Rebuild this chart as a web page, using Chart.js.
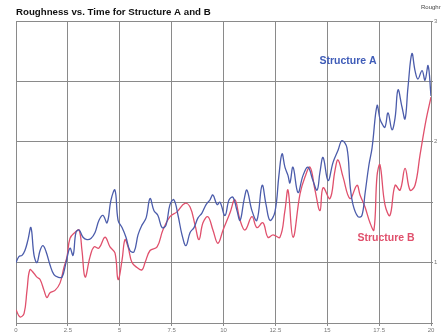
<!DOCTYPE html>
<html>
<head>
<meta charset="utf-8">
<script src="https://cdn.jsdelivr.net/npm/chart.js@4.4.0/dist/chart.umd.min.js"></script>
<style>
  html, body { margin: 0; padding: 0; background: #fff; }
  #wrap { width: 441px; height: 334px; position: relative; }
</style>
</head>
<body>
<div id="wrap"><canvas id="roughChart"></canvas></div>
<script>
// values
const timeA = [0,0.14,0.29,0.43,0.58,0.72,0.87,1.01,1.16,1.3,1.45,1.64,1.83,2.02,2.22,2.41,2.6,2.75,2.89,3.04,3.23,3.42,3.61,3.81,4,4.19,4.39,4.58,4.77,4.92,5.11,5.3,5.49,5.69,5.88,6.07,6.27,6.46,6.65,6.84,7.04,7.23,7.42,7.61,7.81,8,8.19,8.39,8.58,8.77,8.96,9.16,9.35,9.49,9.69,9.83,10.07,10.27,10.46,10.65,10.8,10.99,11.13,11.37,11.61,11.86,12.05,12.24,12.48,12.67,12.82,12.96,13.11,13.2,13.35,13.59,13.83,14.07,14.31,14.51,14.65,14.8,15.04,15.28,15.52,15.71,15.95,16.1,16.24,16.48,16.67,16.82,17.01,17.16,17.4,17.54,17.64,17.78,17.93,18.12,18.27,18.41,18.6,18.75,18.89,19.08,19.23,19.37,19.57,19.71,19.86,20];
const roughA = [1,1.05,1.06,1.1,1.19,1.29,1.06,1,1.1,1.14,1.09,0.98,0.9,0.88,0.88,1,1.12,1.06,1.25,1.27,1.21,1.19,1.2,1.25,1.35,1.39,1.33,1.52,1.6,1.35,1.29,1.21,1.1,1.09,1.23,1.31,1.37,1.53,1.43,1.39,1.29,1.31,1.48,1.52,1.39,1.23,1.14,1.25,1.29,1.37,1.41,1.48,1.52,1.56,1.48,1.5,1.39,1.52,1.54,1.43,1.35,1.52,1.6,1.43,1.35,1.64,1.48,1.35,1.42,1.72,1.9,1.79,1.72,1.66,1.79,1.58,1.72,1.79,1.68,1.6,1.75,1.87,1.68,1.83,1.93,2.01,1.95,1.64,1.48,1.38,1.39,1.57,1.81,1.95,2.3,2.19,2.15,2.12,2.24,2.1,2.2,2.43,2.29,2.19,2.45,2.73,2.59,2.52,2.59,2.51,2.63,2.38];

const timeB = [0,0.19,0.39,0.53,0.67,0.87,1.01,1.16,1.35,1.49,1.64,1.88,2.12,2.31,2.46,2.6,2.84,3.04,3.18,3.33,3.57,3.76,4,4.29,4.53,4.77,4.92,5.11,5.25,5.4,5.59,5.83,6.07,6.22,6.46,6.8,7.08,7.42,7.76,8.14,8.39,8.63,8.82,9.01,9.25,9.49,9.73,9.98,10.31,10.55,10.8,11.04,11.37,11.61,11.9,12.14,12.39,12.72,12.96,13.11,13.35,13.69,13.93,14.17,14.41,14.65,14.8,15.13,15.37,15.52,15.76,16.1,16.43,16.58,16.82,17.06,17.25,17.4,17.54,17.78,18.02,18.27,18.51,18.75,18.99,19.23,19.47,19.76,20];
const roughB = [0.61,0.55,0.58,0.77,0.94,0.91,0.88,0.86,0.77,0.71,0.75,0.77,0.83,0.96,1.05,1.2,1.25,1.27,1.1,0.88,1.05,1.13,1.12,1.21,1.13,1.08,0.86,1.02,1.19,1.13,1,0.96,0.94,1,1.1,1.13,1.27,1.38,1.42,1.49,1.46,1.31,1.19,1.33,1.38,1.27,1.16,1.27,1.41,1.52,1.35,1.27,1.38,1.29,1.33,1.21,1.23,1.21,1.43,1.6,1.21,1.57,1.71,1.79,1.6,1.43,1.62,1.53,1.76,1.85,1.71,1.53,1.64,1.56,1.46,1.33,1.27,1.72,1.81,1.48,1.39,1.64,1.6,1.78,1.6,1.64,1.89,2.18,2.37];

const xTicks = [0, 2.5, 5, 7.5, 10, 12.5, 15, 17.5, 20];
const yLabels = [1, 2, 3];

const BLUE = '#4b5cab';
const RED = '#e0506c';

const toPts = (xs, ys) => xs.map((t, i) => ({ x: t, y: ys[i] }));

// title, axis name and series labels drawn on the canvas
const textPlugin = {
  id: 'texts',
  afterDraw(chart) {
    const { ctx, scales } = chart;
    ctx.save();
    ctx.textBaseline = 'alphabetic';
    ctx.textAlign = 'left';
    ctx.fillStyle = '#111';
    ctx.font = 'bold 9.7px "Liberation Sans", Arial, sans-serif';
    ctx.fillText('Roughness vs. Time for Structure A and B', 16, 15);
    ctx.font = '6px "Liberation Sans", Arial, sans-serif';
    ctx.fillStyle = '#444';
    ctx.fillText('Roughness', 421, 9);
    ctx.textAlign = 'center';
    ctx.textBaseline = 'middle';
    ctx.font = 'bold 10.5px "Liberation Sans", Arial, sans-serif';
    ctx.fillStyle = '#3f5cb8';
    ctx.fillText('Structure A', scales.x.getPixelForValue(16.0), scales.y.getPixelForValue(2.67));
    ctx.fillStyle = RED;
    ctx.fillText('Structure B', scales.x.getPixelForValue(17.83), scales.y.getPixelForValue(1.2));
    ctx.restore();
  }
};

new Chart(document.getElementById('roughChart'), {
  type: 'line',
  data: {
    datasets: [
      { label: 'Structure A', data: toPts(timeA, roughA), borderColor: BLUE, borderWidth: 1.3, pointRadius: 0, tension: 0.4, fill: false },
      { label: 'Structure B', data: toPts(timeB, roughB), borderColor: RED, borderWidth: 1.3, pointRadius: 0, tension: 0.4, fill: false }
    ]
  },
  options: {
    responsive: true,
    maintainAspectRatio: false,
    animation: false,
    layout: { padding: { top: 21, left: 16, right: 0, bottom: 0 } },
    plugins: { legend: { display: false }, tooltip: { enabled: false }, title: { display: false } },
    scales: {
      x: {
        type: 'linear', min: 0, max: 20,
        afterBuildTicks: (scale) => { scale.ticks = xTicks.map(v => ({ value: v })); },
        afterFit: (scale) => { scale.height = 11; },
        grid: { color: '#8a8a8a', lineWidth: 1, tickLength: 3, drawTicks: true },
        border: { color: '#8a8a8a' },
        ticks: { color: '#777', font: { size: 6, family: '"Liberation Sans", Arial' }, padding: 1, maxRotation: 0, autoSkip: false }
      },
      y: {
        position: 'right', min: 0.5, max: 3,
        afterFit: (scale) => { scale.width = 10; },
        grid: { color: '#8a8a8a', lineWidth: 1, tickLength: 2 },
        border: { color: '#8a8a8a' },
        ticks: {
          stepSize: 0.5, color: '#777', padding: 1,
          font: { size: 6, family: '"Liberation Sans", Arial' },
          callback: (v) => yLabels.includes(v) ? String(v) : ''
        }
      }
    }
  },
  plugins: [textPlugin]
});
</script>
</body>
</html>
